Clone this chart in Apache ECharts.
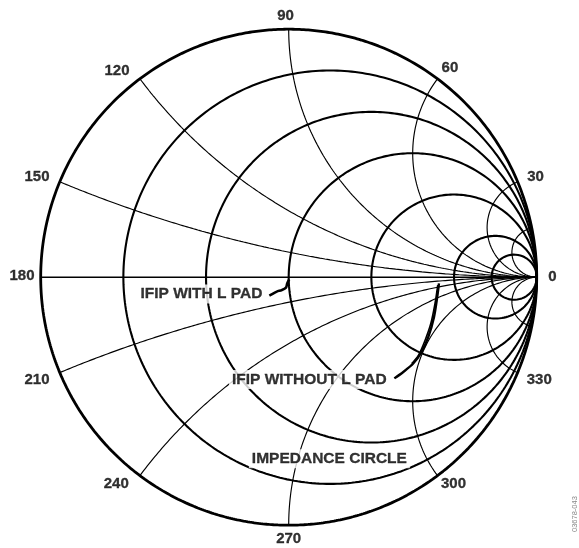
<!DOCTYPE html>
<html><head><meta charset="utf-8">
<script src="https://cdn.jsdelivr.net/npm/echarts@6/dist/echarts.min.js"></script>
<style>html,body{margin:0;padding:0;background:#fff}#c{width:579px;height:548px}</style>
</head><body><div id="c"></div><script>
// Smith chart grid values
const resistanceValues = [0, 0.2, 0.5, 1, 2, 5, 10];
const reactanceValues = [0.2, 0.5, 1, 2, 5, 10, -0.2, -0.5, -1, -2, -5, -10];
// angle tick labels round the rim
const angleTickLabels = ['0', '30', '60', '90', '120', '150', '180', '210', '240', '270', '300', '330'];
// measured traces (reflection coefficient, real / imaginary)
const withPadRe = [0.002, -0.006, -0.011, -0.028, -0.048, -0.069, -0.078];
const withPadIm = [-0.009, -0.025, -0.042, -0.052, -0.058, -0.069, -0.074];
const withoutPadRe = [0.606, 0.599, 0.586, 0.563, 0.536, 0.502, 0.462, 0.426];
const withoutPadIm = [-0.025, -0.079, -0.160, -0.241, -0.301, -0.348, -0.382, -0.408];
const withoutPad2Re = [0.601, 0.590, 0.573, 0.550, 0.523, 0.496];
const withoutPad2Im = [-0.032, -0.106, -0.187, -0.254, -0.315, -0.348];
// annotations
const annotationTexts = ['IFIP WITH L PAD', 'IFIP WITHOUT L PAD', 'IMPEDANCE CIRCLE'];

// ---- layout (placement only) ----
const R = 248; // chart radius in px
const tickLabelAngleDeg = [0, 22.2, 52.4, 90.7, 129.8, 158.2, 179.7, 202.1, 230.2, 270, 308.5, 337.8];
const tickLabelRadiusPx = [263.8, 266.6, 264.2, 261.7, 268.3, 271.1, 266.7, 271.7, 269.4, 261.3, 264.7, 270.6];
const annotationRe = [-0.352, 0.083, 0.164];
const annotationIm = [-0.068, -0.412, -0.732];

function gamma(r, x) {
  const d = (r + 1) * (r + 1) + x * x;
  return [(r * r + x * x - 1) / d, 2 * x / d];
}
const series = [];
resistanceValues.forEach(r => {
  const c = r / (r + 1), rho = 1 / (r + 1), pts = [];
  for (let i = 0; i <= 720; i++) {
    const t = Math.PI * 2 * i / 720;
    pts.push([c + rho * Math.cos(t), rho * Math.sin(t)]);
  }
  series.push({ type: 'line', data: pts, showSymbol: false, silent: true, z: 2, clip: false,
    lineStyle: { color: '#000', width: r === 0 ? 2.8 : 2.1 } });
});
reactanceValues.forEach(x => {
  const pts = [];
  for (let i = 0; i <= 600; i++) {
    const u = (Math.PI / 2) * i / 600;
    const r = i === 600 ? 1e9 : Math.tan(u);
    pts.push(gamma(r, x));
  }
  series.push({ type: 'line', data: pts, showSymbol: false, silent: true, z: 1, clip: false,
    lineStyle: { color: '#000', width: 1.15 } });
});
series.push({ type: 'line', data: [[-1, 0], [1, 0]], showSymbol: false, silent: true, z: 1, clip: false,
  lineStyle: { color: '#000', width: 1.4 } });

const zip = (a, b) => a.map((v, i) => [v, b[i]]);
series.push({ type: 'line', data: zip(withPadRe, withPadIm), smooth: 0.3, showSymbol: false, z: 5,
  lineStyle: { color: '#000', width: 2.6 } });
series.push({ type: 'line', data: zip(withoutPadRe, withoutPadIm), smooth: 0.3, showSymbol: false, z: 5,
  lineStyle: { color: '#000', width: 2.4 } });
series.push({ type: 'line', data: zip(withoutPad2Re, withoutPad2Im), smooth: 0.3, showSymbol: false, z: 5,
  lineStyle: { color: '#000', width: 1.6 } });

const tickData = angleTickLabels.map((lab, i) => {
  const th = tickLabelAngleDeg[i] * Math.PI / 180;
  const d = tickLabelRadiusPx[i] / R;
  return { value: [d * Math.cos(th), d * Math.sin(th)], name: lab };
});
const labelFont = { fontFamily: 'Liberation Sans, Arial, sans-serif', fontWeight: 'bold', color: '#000',
  textBorderColor: '#000', textBorderWidth: 0.3 };
series.push({ type: 'scatter', data: tickData, symbolSize: 1, clip: false, itemStyle: { color: 'rgba(0,0,0,0)' }, z: 10,
  labelLayout: { hideOverlap: false },
  label: Object.assign({ show: true, position: 'inside', formatter: p => p.name, fontSize: 15 }, labelFont) });
series.push({ type: 'scatter', symbolSize: 1, clip: false, itemStyle: { color: 'rgba(0,0,0,0)' }, z: 10,
  data: annotationTexts.map((t, i) => ({ value: [annotationRe[i], annotationIm[i]], name: t })),
  label: Object.assign({ show: true, position: 'inside', formatter: p => p.name, backgroundColor: '#fff',
    padding: [2, 3, 1, 3], fontSize: 15.5 }, labelFont) });

const chart = echarts.init(document.getElementById('c'), null, { renderer: 'canvas' });
chart.setOption({
  animation: false,
  backgroundColor: '#fff',
  grid: { left: 40.7, top: 29.2, width: 496, height: 496 },
  xAxis: { type: 'value', min: -1, max: 1, show: false },
  yAxis: { type: 'value', min: -1, max: 1, show: false },
  graphic: [{ type: 'text', x: 571, y: 532, rotation: Math.PI / 2,
    style: { text: '03678-043', fill: '#888', fontSize: 7.5, fontFamily: 'Liberation Sans, Arial, sans-serif' } }],
  series: series
});
</script></body></html>
